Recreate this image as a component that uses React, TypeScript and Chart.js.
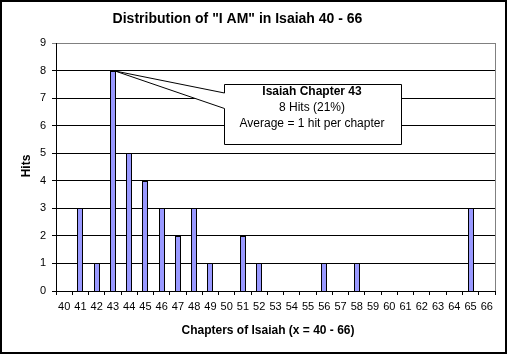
import React, { useEffect, useRef } from "react";
import { Chart, registerables } from "chart.js";

Chart.register(...registerables);

const chartTitle = 'Distribution of "I AM" in Isaiah 40 - 66';
const xTitle = "Chapters of Isaiah (x = 40 - 66)";
const yTitle = "Hits";

const chapters = [
  "40", "41", "42", "43", "44", "45", "46", "47", "48", "49",
  "50", "51", "52", "53", "54", "55", "56", "57", "58", "59",
  "60", "61", "62", "63", "64", "65", "66",
];
const hits = [0, 3, 1, 8, 5, 4, 3, 2, 3, 1, 0, 2, 1, 0, 0, 0, 1, 0, 1, 0, 0, 0, 0, 0, 0, 3, 0];

const calloutChapter = "43";
const calloutLines = ["Isaiah Chapter 43", "8 Hits (21%)", "Average = 1 hit per chapter"];

const FONT = '"Liberation Sans", Arial, sans-serif';

const snapPlugin = {
  id: "snap",
  afterDatasetsUpdate(chart: any) {
    chart.getSortedVisibleDatasetMetas().forEach((meta: any) => {
      meta.data.forEach((el: any) => {
        el.x = Math.round(el.x);
        el.y = Math.round(el.y);
        el.base = Math.round(el.base);
        el.width = 6;
      });
    });
  },
};

const decorPlugin = {
  id: "decor",
  beforeDraw(chart: any) {
    const ctx = chart.ctx;
    ctx.save();
    ctx.fillStyle = "#ffffff";
    ctx.fillRect(0, 0, chart.width, chart.height);
    ctx.restore();
  },
  afterDraw(chart: any) {
    const { ctx, chartArea, scales } = chart;
    ctx.save();
    // plot area right border (gray)
    ctx.strokeStyle = "#808080";
    ctx.lineWidth = 1;
    ctx.beginPath();
    ctx.moveTo(Math.round(chartArea.right) + 0.5, Math.round(chartArea.top));
    ctx.lineTo(Math.round(chartArea.right) + 0.5, Math.round(chartArea.bottom));
    ctx.stroke();

    // outer border
    ctx.strokeStyle = "#000000";
    ctx.lineWidth = 2;
    ctx.strokeRect(1, 1, 505, 352);

    // titles
    ctx.fillStyle = "#000000";
    ctx.textAlign = "center";
    ctx.textBaseline = "middle";
    ctx.font = `bold 14px ${FONT}`;
    ctx.fillText(chartTitle, 237.5, 19.5);
    ctx.font = `bold 12px ${FONT}`;
    ctx.fillText(xTitle, 268, 331);
    ctx.save();
    ctx.translate(27, 166);
    ctx.rotate(-Math.PI / 2);
    ctx.fillText(yTitle, 0, 0);
    ctx.restore();

    // callout
    const idx = chapters.indexOf(calloutChapter);
    const tipX = Math.round(scales.x.getPixelForValue(idx)) + 2;
    const tipY = Math.round(scales.y.getPixelForValue(hits[idx]));
    const bx = 224.5, by = 84.5, bw = 177, bh = 60;
    ctx.beginPath();
    ctx.moveTo(bx, by);
    ctx.lineTo(bx + bw, by);
    ctx.lineTo(bx + bw, by + bh);
    ctx.lineTo(bx, by + bh);
    ctx.lineTo(bx, by + 24);
    ctx.lineTo(tipX, tipY);
    ctx.lineTo(bx, by + 8.5);
    ctx.closePath();
    ctx.fillStyle = "#ffffff";
    ctx.fill();
    ctx.strokeStyle = "#000000";
    ctx.lineWidth = 1;
    ctx.stroke();

    ctx.fillStyle = "#000000";
    ctx.textAlign = "center";
    ctx.textBaseline = "middle";
    const cx = bx + bw / 2 - 1;
    ctx.font = `bold 12px ${FONT}`;
    ctx.fillText(calloutLines[0], cx, 92);
    ctx.font = `12px ${FONT}`;
    ctx.fillText(calloutLines[1], cx, 108);
    ctx.fillText(calloutLines[2], cx, 123.5);
    ctx.restore();
  },
};

export default function App() {
  const ref = useRef<HTMLCanvasElement | null>(null);

  useEffect(() => {
    document.body.style.margin = "0";
    const canvas = ref.current;
    if (!canvas) return;
    const chart = new Chart(canvas, {
      type: "bar",
      data: {
        labels: chapters,
        datasets: [
          {
            label: "Hits",
            data: hits,
            backgroundColor: "#9999FF",
            borderColor: "#000000",
            borderWidth: 1,
            borderSkipped: "start",
            inflateAmount: 0,
            categoryPercentage: 1,
            barPercentage: 0.37,
          },
        ],
      },
      options: {
        responsive: false,
        devicePixelRatio: 1,
        animation: false,
        layout: { padding: { top: 43, left: 0, right: 16, bottom: 35 } },
        plugins: {
          legend: { display: false },
          title: { display: false },
          tooltip: { enabled: false },
        },
        scales: {
          x: {
            type: "category",
            offset: true,
            grid: {
              offset: true,
              drawOnChartArea: false,
              drawTicks: true,
              tickLength: 4,
              color: "#000000",
            },
            border: { display: true, color: "#000000", width: 1 },
            ticks: {
              autoSkip: false,
              maxRotation: 0,
              minRotation: 0,
              color: "#000000",
              font: { family: FONT, size: 11 },
              padding: 5,
            },
            afterFit: (s: any) => {
              s.height = 30;
            },
          },
          y: {
            min: 0,
            max: 9,
            ticks: {
              stepSize: 1,
              color: "#000000",
              font: { family: FONT, size: 11 },
              padding: 6,
            },
            grid: {
              color: (c: any) => (c.tick && c.tick.value === 9 ? "#808080" : "#000000"),
              tickLength: 4,
              lineWidth: 1,
            },
            border: { display: true, color: "#000000", width: 1 },
            afterFit: (s: any) => {
              s.width = 56;
            },
          },
        },
      },
      plugins: [snapPlugin, decorPlugin],
    });
    return () => chart.destroy();
  }, []);

  return (
    <div style={{ position: "fixed", left: 0, top: 0 }}>
      <canvas ref={ref} width={511} height={356} style={{ display: "block" }} />
    </div>
  );
}
